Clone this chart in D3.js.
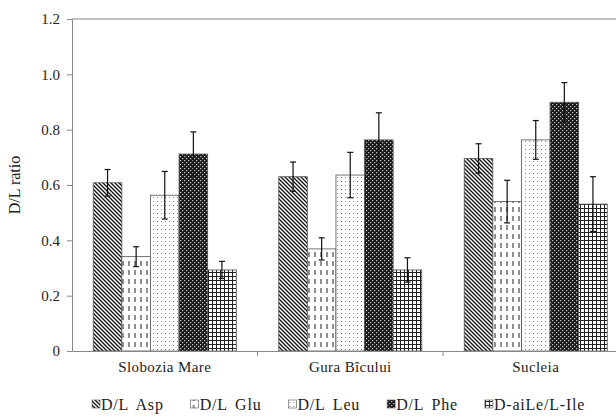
<!DOCTYPE html>
<meta charset="utf-8">
<script src="https://d3js.org/d3.v7.min.js"></script>
<style>
  body { margin: 0; background: #fff; }
  svg { display: block; overflow: hidden; }
  text { font-family: "Liberation Serif", "Times New Roman", serif; fill: #222; }
</style>
<div id="my_dataviz"></div>
<script>

// data
var sites = ["Slobozia Mare", "Gura Bîcului", "Sucleia"];
var series = ["D/L Asp", "D/L Glu", "D/L Leu", "D/L Phe", "D-aiLe/L-Ile"];
var patternIds = ["pAsp", "pGlu", "pLeu", "pPhe", "pIle"];
var asp = [0.608, 0.630, 0.696];
var glu = [0.341, 0.369, 0.540];
var leu = [0.563, 0.636, 0.763];
var phe = [0.712, 0.763, 0.899];
var ile = [0.293, 0.293, 0.531];
var aspErr = [0.048, 0.053, 0.053];
var gluErr = [0.036, 0.040, 0.077];
var leuErr = [0.086, 0.082, 0.070];
var pheErr = [0.080, 0.098, 0.071];
var ileErr = [0.031, 0.044, 0.099];
var yTicks = [0, 0.2, 0.4, 0.6, 0.8, 1.0, 1.2];

var values = [asp, glu, leu, phe, ile];
var errors = [aspErr, gluErr, leuErr, pheErr, ileErr];

var rows = [];
sites.forEach(function(s, i) {
  series.forEach(function(k, j) {
    rows.push({site: s, key: k, pat: patternIds[j], v: values[j][i], e: errors[j][i]});
  });
});

var W = 616, H = 419;
var plotLeft = 72, plotTop = 19, plotBottom = 351;
var step = 185.5;
var plotRight = plotLeft + step * sites.length;
var serif = "'Liberation Serif', 'Times New Roman', serif";

var svg = d3.select("#my_dataviz").append("svg")
  .attr("width", W).attr("height", H);

// hatch patterns
var defs = svg.append("defs");
function pat(id, w, h) {
  return defs.append("pattern").attr("id", id)
    .attr("patternUnits", "userSpaceOnUse").attr("width", w).attr("height", h);
}
var p1 = pat("pAsp", 4, 4);
p1.append("rect").attr("width", 4).attr("height", 4).attr("fill", "#fff");
p1.append("path").attr("d", "M0,0 L4,4 M-1,3 L1,5 M3,-1 L5,1").attr("stroke", "#111").attr("stroke-width", 1.3);

var p2 = pat("pGlu", 6, 9);
p2.append("rect").attr("width", 6).attr("height", 9).attr("fill", "#fff");
p2.append("line").attr("x1", 3).attr("x2", 3).attr("y1", 0).attr("y2", 5).attr("stroke", "#444").attr("stroke-width", 1.2);

var p3 = pat("pLeu", 4, 4);
p3.append("rect").attr("width", 4).attr("height", 4).attr("fill", "#fff");
p3.append("rect").attr("x", 1).attr("y", 1).attr("width", 1).attr("height", 1).attr("fill", "#888");

var p4 = pat("pPhe", 4, 4);
p4.append("rect").attr("width", 4).attr("height", 4).attr("fill", "#1a1a1a");
p4.append("rect").attr("x", 0).attr("y", 0).attr("width", 1.2).attr("height", 1.2).attr("fill", "#ccc");
p4.append("rect").attr("x", 2).attr("y", 2).attr("width", 1.2).attr("height", 1.2).attr("fill", "#ccc");

var p5 = pat("pIle", 4, 4);
p5.append("rect").attr("width", 4).attr("height", 4).attr("fill", "#fff");
p5.append("path").attr("d", "M0,0.5 H4 M0.5,0 V4").attr("stroke", "#222").attr("stroke-width", 1);

// scales
var x0 = d3.scaleBand().domain(sites).range([plotLeft, plotRight]).padding(0);
var gap = step * 0.229;
var x1 = d3.scaleBand().domain(series).range([gap / 2, step - gap / 2]).padding(0);
var y = d3.scaleLinear().domain([0, 1.2]).range([plotBottom, plotTop]);

// top border of the plot area
svg.append("line").attr("x1", plotLeft).attr("x2", plotRight)
  .attr("y1", plotTop).attr("y2", plotTop).attr("stroke", "#888").attr("stroke-width", 1);

// bars
svg.append("g").selectAll("rect").data(rows).join("rect")
  .attr("x", function(d) { return x0(d.site) + x1(d.key); })
  .attr("y", function(d) { return y(d.v); })
  .attr("width", x1.bandwidth())
  .attr("height", function(d) { return plotBottom - y(d.v); })
  .attr("fill", function(d) { return "url(#" + d.pat + ")"; })
  .attr("stroke", "#555").attr("stroke-width", 0.8);

// error bars
var eb = svg.append("g").attr("stroke", "#111").attr("stroke-width", 1.2);
rows.forEach(function(d) {
  var cx = x0(d.site) + x1(d.key) + x1.bandwidth() / 2;
  eb.append("line").attr("x1", cx).attr("x2", cx).attr("y1", y(d.v + d.e)).attr("y2", y(d.v - d.e));
  eb.append("line").attr("x1", cx - 3).attr("x2", cx + 3).attr("y1", y(d.v + d.e)).attr("y2", y(d.v + d.e));
  eb.append("line").attr("x1", cx - 3).attr("x2", cx + 3).attr("y1", y(d.v - d.e)).attr("y2", y(d.v - d.e));
});

// y axis
var yAxis = svg.append("g").attr("transform", "translate(" + plotLeft + ",0)")
  .call(d3.axisLeft(y).tickValues(yTicks).tickSize(5).tickSizeOuter(0)
    .tickFormat(function(d) { return d === 0 ? "0" : d3.format(".1f")(d); }))
  .attr("font-family", serif).attr("font-size", 15);
yAxis.select(".domain").attr("stroke", "#888");
yAxis.selectAll(".tick line").attr("stroke", "#888");
yAxis.selectAll(".tick text").attr("x", -12).attr("fill", "#222");

// x axis
var xAxis = svg.append("g").attr("transform", "translate(0," + plotBottom + ")")
  .call(d3.axisBottom(x0).tickSize(0).tickSizeOuter(0))
  .attr("font-family", serif).attr("font-size", 15);
xAxis.select(".domain").attr("stroke", "#888");
xAxis.selectAll(".tick text").attr("dy", "1.2em").attr("fill", "#222")
  .style("letter-spacing", "0.4px");
// boundary ticks between categories
svg.append("g").selectAll("line").data(sites.slice(1)).join("line")
  .attr("x1", function(d) { return x0(d); }).attr("x2", function(d) { return x0(d); })
  .attr("y1", plotBottom).attr("y2", plotBottom + 5).attr("stroke", "#888");

// y label
svg.append("text").attr("transform", "translate(20," + ((plotTop + plotBottom) / 2) + ") rotate(-90)")
  .attr("text-anchor", "middle").style("font-size", "16px").text("D/L ratio");

// legend
var legend = svg.append("g").attr("transform", "translate(0,405)");
var lx = 92;
series.forEach(function(k, j) {
  var g = legend.append("g").attr("transform", "translate(" + lx + ",0)");
  g.append("rect").attr("x", 0).attr("y", -5).attr("width", 8).attr("height", 8)
    .attr("fill", "url(#" + patternIds[j] + ")").attr("stroke", "#555").attr("stroke-width", 0.6);
  var t = g.append("text").attr("x", 9).attr("y", 4.5).style("font-size", "16px")
    .style("letter-spacing", "0.8px").style("word-spacing", "3px").text(k);
  lx += 9 + t.node().getComputedTextLength() + 27;
});

</script>
